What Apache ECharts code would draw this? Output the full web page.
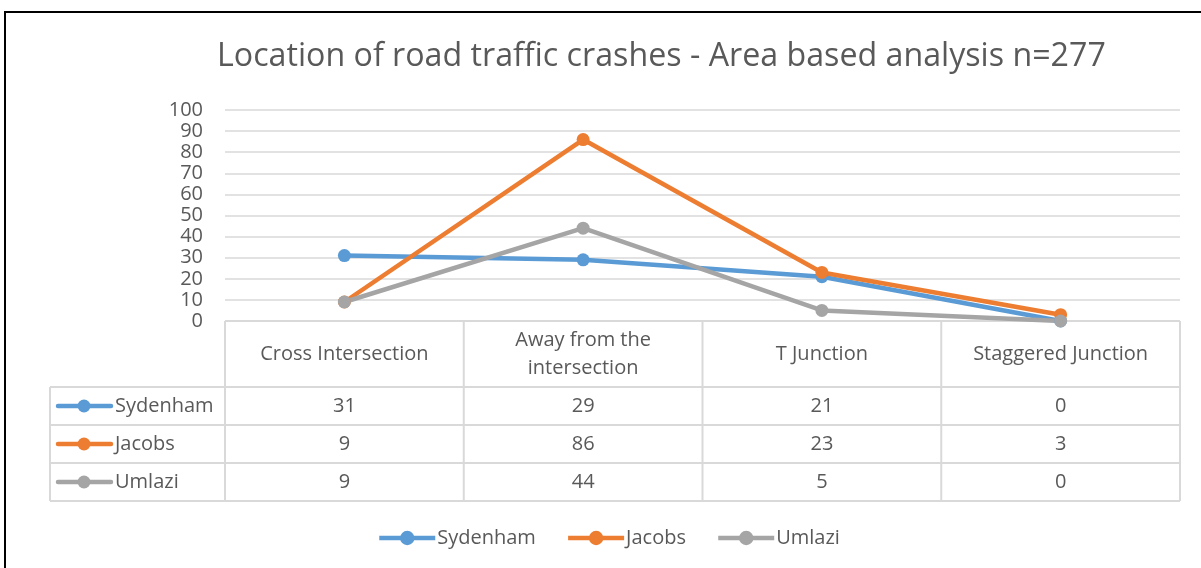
<!DOCTYPE html>
<html>
<head>
<meta charset="utf-8">
<script src="https://cdn.jsdelivr.net/npm/echarts@6/dist/echarts.min.js"></script>
<style>
  html, body { margin: 0; padding: 0; background: #fff; }
  #frame { position: absolute; left: 4px; top: 11px; width: 1210px; height: 570px; border: 2px solid #000; box-sizing: border-box; }
  #chart { position: absolute; left: 0; top: 0; width: 1201px; height: 568px; }
</style>
</head>
<body>
<div id="frame"></div>
<div id="chart"></div>
<script>
// data
var categories = ['Cross Intersection', 'Away from the\nintersection', 'T Junction', 'Staggered Junction'];
var seriesNames = ['Sydenham', 'Jacobs', 'Umlazi'];
var sydenham = [31, 29, 21, 0];
var jacobs = [9, 86, 23, 3];
var umlazi = [9, 44, 5, 0];
var yTicks = [0, 10, 20, 30, 40, 50, 60, 70, 80, 90, 100];

var allValues = [sydenham, jacobs, umlazi];
var colors = ['#5b9bd5', '#ed7d31', '#a5a5a5'];
var font = 'Open Sans';
var textColor = '#595959';
var border = '#d9d9d9';

var myChart = echarts.init(document.getElementById('chart'));

var gridLeft = 225, gridRight = 1180, gridTop = 110, gridBottom = 321;
var rowY = [321, 387, 425, 463, 501];
var tableLeft = 50;

var series = seriesNames.map(function (name, i) {
  return {
    name: name,
    type: 'line',
    data: allValues[i],
    symbol: 'circle',
    symbolSize: 13,
    z: 10,
    lineStyle: { width: 4.5, color: colors[i] },
    itemStyle: { color: colors[i] }
  };
});

var option = {
  animation: false,
  title: {
    text: 'Location of road traffic crashes - Area based analysis n=277',
    left: 212,
    top: 36,
    textStyle: { fontFamily: font, fontWeight: 'normal', fontSize: 32.2, color: textColor }
  },
  grid: { left: gridLeft, right: 1201 - gridRight, top: gridTop, height: gridBottom - gridTop },
  xAxis: {
    type: 'category',
    data: categories,
    boundaryGap: true,
    axisLine: { show: false },
    axisTick: { show: false },
    axisLabel: { show: false }
  },
  yAxis: {
    type: 'value',
    min: yTicks[0],
    max: yTicks[yTicks.length - 1],
    interval: 10,
    axisLine: { show: false },
    axisTick: { show: false },
    axisLabel: { fontFamily: font, fontSize: 20, color: textColor, margin: 22, lineHeight: 20 },
    splitLine: { lineStyle: { color: border, width: 1.5 } }
  },
  legend: {
    top: 528,
    left: 377,
    padding: 0,
    itemWidth: 56,
    itemHeight: 18,
    itemGap: 30,
    lineStyle: { width: 4.5 },
    textStyle: { fontFamily: font, fontSize: 20, color: textColor, padding: [0, 0, 0, -3] },
    data: seriesNames
  },
  series: series
};
myChart.setOption(option);

// data table below the plot, positioned from the category axis
function buildTable() {
  var g = [];
  var centers = categories.map(function (c, i) { return myChart.convertToPixel({ xAxisIndex: 0 }, i); });
  var step = (gridRight - gridLeft) / categories.length;
  var line = function (x1, y1, x2, y2) {
    g.push({ type: 'line', z: 1, shape: { x1: x1, y1: y1, x2: x2, y2: y2 }, style: { stroke: border, lineWidth: 2 } });
  };
  var text = function (x, y, s, align) {
    g.push({ type: 'text', z: 2, x: x, y: y, style: { text: s, fill: textColor, font: '20px "' + font + '"', align: align || 'center', verticalAlign: 'middle', lineHeight: 28 } });
  };
  // horizontal lines
  line(gridLeft, rowY[0], gridRight, rowY[0]);
  for (var r = 1; r < rowY.length; r++) line(tableLeft, rowY[r], gridRight, rowY[r]);
  // vertical lines
  line(tableLeft, rowY[1], tableLeft, rowY[4]);
  for (var c = 0; c <= categories.length; c++) {
    var x = gridLeft + c * step;
    line(x, rowY[0], x, rowY[4]);
  }
  // header
  categories.forEach(function (cat, i) { text(centers[i], (rowY[0] + rowY[1]) / 2, cat); });
  // rows
  seriesNames.forEach(function (name, s) {
    var cy = (rowY[s + 1] + rowY[s + 2]) / 2;
    g.push({ type: 'line', z: 2, shape: { x1: 58, y1: cy, x2: 111, y2: cy }, style: { stroke: colors[s], lineWidth: 4.5, lineCap: 'round' } });
    g.push({ type: 'circle', z: 3, shape: { cx: 84, cy: cy, r: 6.5 }, style: { fill: colors[s] } });
    text(115, cy, name, 'left');
    allValues[s].forEach(function (v, i) { text(centers[i], cy, String(v)); });
  });
  myChart.setOption({ graphic: { elements: g } });
}
buildTable();

window.addEventListener('resize', function () {
  myChart.resize();
  buildTable();
});
</script>
</body>
</html>
